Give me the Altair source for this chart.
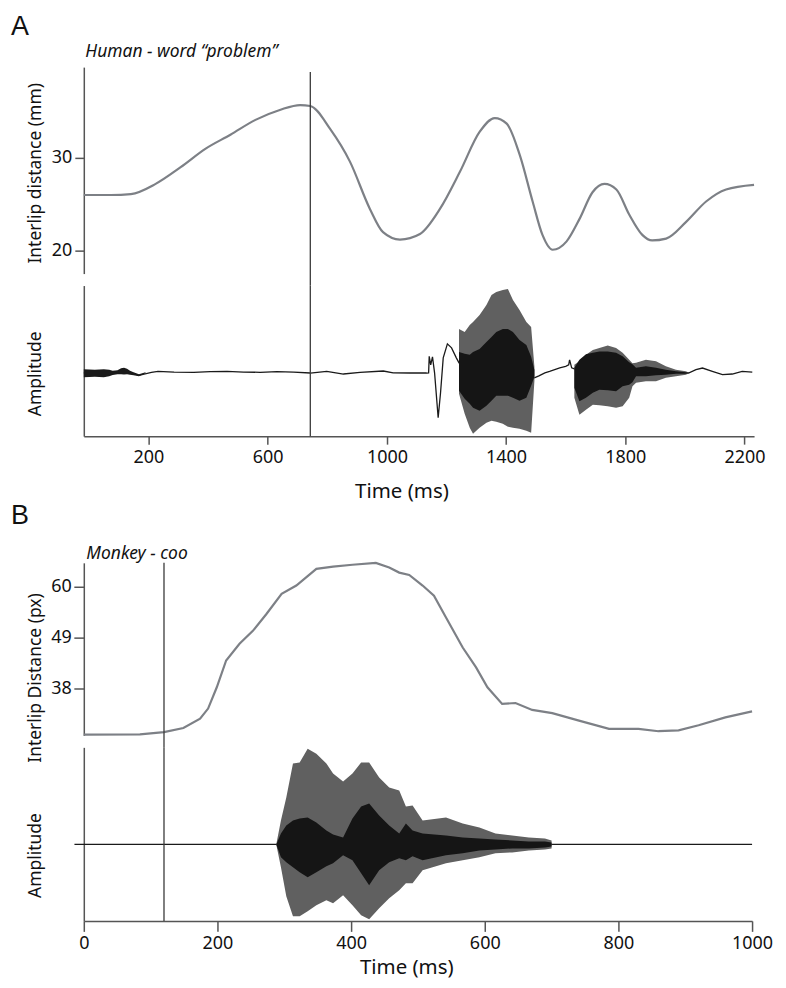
import altair as alt
import pandas as pd

# ---------------- text ----------------
panel_letters = ["A", "B"]
panel_subtitles = ["Human - word  \u201cproblem\u201d", "Monkey - coo"]
y_titles_top = ["Interlip distance (mm)", "Interlip Distance (px)"]
amp_title = "Amplitude"
x_title = "Time (ms)"

# ---------------- ticks ----------------
a_ticks_x = [200, 600, 1000, 1400, 1800, 2200]
a_ticks_y = [20, 30]
b_ticks_x = [0, 200, 400, 600, 800, 1000]
b_ticks_y = [38, 49, 60]

# time of the vertical marker (ms)
a_marker_t = [743]
b_marker_t = [120]

# ---------------- panel A: interlip distance (mm) ----------------
a_dist_t = [-17, 74, 141, 224, 308, 392, 475, 559, 643, 709, 743, 810, 876, 943, 987, 1044,
            1111, 1178, 1245, 1311, 1362, 1402, 1446, 1489, 1522, 1556, 1603, 1646, 1690,
            1730, 1770, 1813, 1857, 1890, 1937, 2004, 2071, 2138, 2232]
a_dist_v = [26.0, 26.0, 26.1, 27.2, 29.0, 31.0, 32.5, 34.1, 35.2, 35.7, 35.6, 33.1, 29.6, 24.5,
            22.0, 21.2, 21.8, 24.5, 28.5, 32.8, 34.3, 33.7, 30.3, 25.3, 21.7, 20.1, 21.0, 23.4,
            26.3, 27.2, 26.6, 23.9, 21.7, 21.1, 21.3, 23.1, 25.3, 26.6, 27.1]

# ---------------- panel A: audio waveform (amplitude, arbitrary units) ----------------
a_wave_t = [-17, 68, 96, 118, 135, 168, 210, 232, 286, 352, 407, 464, 519, 575, 631, 687, 743,
            798, 854, 910, 988, 1021, 1077, 1133, 1140, 1142, 1147, 1153, 1160, 1172, 1180,
            1189, 1203, 1217, 1233, 1242, 1495, 1510, 1530, 1546, 1580, 1600, 1610, 1613,
            1620, 1629, 2014, 2037, 2059, 2092, 2126, 2159, 2192, 2226]
a_wave_v = [0, -0.5, 0.3, 1.5, 0.5, -2.5, 0.5, 1.5, 0.8, 0.5, 1.2, 1.5, 0.8, 0.5, 1.2, 0.8, -0.2,
            1.5, -1.2, 0.5, 1.8, 0, -0.2, -0.2, 0, 16.5, 8, 16, 0, -45, -20,
            15, 29, 25, 15, 10, -5, -3, 0, 1.5, 5, 6.5, 8, 13,
            5, 4, 0, 3.2, 4.8, 1.5, -1.8, -1.2, 1.5, 0.8]

a_noise_t = [-17, 20, 50, 68, 80, 96, 108, 118, 128, 138, 150, 168, 190]
a_noise_hi = [3.5, 3.2, 3.5, 3.0, 2.0, 2.5, 4.5, 5.0, 4.0, 2.0, 0.5, -1.5, 0.5]
a_noise_lo = [-4.5, -4.0, -4.5, -3.5, -2.3, -1.5, -1.5, -1.8, -1.5, -2.0, -2.5, -3.5, -0.5]

a_v1_t = [1242, 1261, 1278, 1289, 1311, 1334, 1351, 1367, 1389, 1406, 1423, 1445, 1468, 1484, 1495]
a_v1_out_hi = [44, 41, 48, 51, 58, 68, 78, 81, 83, 84, 73, 63, 51, 46, 6]
a_v1_out_lo = [-21, -41, -55, -61, -55, -50, -48, -49, -51, -54, -55, -56, -58, -60, -8]
a_v1_in_hi = [21, 19, 18, 21, 24, 31, 36, 41, 44, 44, 41, 33, 28, 16, 3]
a_v1_in_lo = [-18, -26, -31, -35, -38, -33, -28, -23, -23, -23, -25, -28, -25, -13, -4]

a_v2_t = [1629, 1646, 1668, 1691, 1713, 1741, 1769, 1791, 1813, 1824, 1836, 1869, 1903, 1936, 1970, 2003, 2014]
a_v2_out_hi = [8, 11.5, 18, 23, 25, 27.5, 25, 20, 13, 9.5, 10, 13, 11.5, 6.5, 3, 1.5, 0]
a_v2_out_lo = [-25, -42, -37, -32, -32.5, -33.5, -35, -33.5, -25, -13.5, -10, -8.5, -8.5, -5, -3.5, -2, -0.5]
a_v2_in_hi = [5, 13, 18.5, 20, 21.5, 21.5, 20, 16.5, 10.5, 8.5, 5, 6.5, 5, 3, 1.5, 0.5, 0]
a_v2_in_lo = [-15, -28.5, -25, -20, -17, -17.5, -18.5, -13.5, -12, -9.5, -3.5, -3.5, -2.5, -2, -1, -1, -0.5]

# ---------------- panel B: interlip distance (px) ----------------
b_dist_t = [0, 84, 120, 149, 174, 186, 199, 213, 233, 253, 273, 296, 318, 348, 373, 402, 437,
            457, 472, 487, 507, 524, 542, 567, 587, 604, 626, 646, 671, 701, 741, 786, 830,
            860, 890, 920, 960, 1000]
b_dist_v = [27.95, 28.0, 28.5, 29.4, 31.4, 33.6, 38.2, 44.0, 47.6, 50.4, 54.0, 58.4, 60.2, 63.8,
            64.3, 64.7, 65.1, 64.1, 63.0, 62.5, 60.2, 58.0, 53.3, 46.8, 42.5, 38.2, 34.6, 34.8,
            33.3, 32.6, 31.0, 29.2, 29.2, 28.7, 28.9, 30.0, 31.7, 33.0]

# ---------------- panel B: audio waveform ----------------
b_base_t = [-14, 1000]
b_base_v = [0, 0]
b_v_t = [288, 295, 303, 313, 323, 335, 348, 363, 373, 388, 402, 415, 427, 442, 457, 472, 482,
         492, 507, 542, 567, 592, 616, 641, 666, 690, 700]
b_v_out_hi = [0, 24, 47, 81, 82, 96, 91, 81, 71, 63, 71, 82, 82, 67, 57, 54, 38, 39, 24, 27, 21,
              17, 11, 9, 7, 6, 4]
b_v_out_lo = [0, -23, -52, -72, -72, -67, -61, -56, -59, -51, -61, -71, -75, -64, -54, -46, -39,
              -39, -26, -19, -16, -13, -9, -8, -6, -5, -4]
b_v_in_hi = [0, 11, 19, 24, 26, 27, 22, 14, 10, 7, 26, 38, 41, 29, 19, 11, 21, 14, 11, 9, 7, 6,
             5, 4, 3, 3, 2]
b_v_in_lo = [0, -13, -18, -23, -28, -33, -28, -22, -19, -11, -16, -29, -41, -26, -18, -14, -16,
             -12, -16, -11, -9, -6, -5, -4, -4, -3, -2]

# ---------------- styling ----------------
FONT = "Noto Sans"
LETTER_FONT = "Liberation Sans"
AXC = "#555555"
DIST_COLOR = "#7d8086"
OUTER = "#606060"
INNER = "#151515"
MARK_COLOR = "#3a3a3a"

W_A, W_B = 672, 670
H1, H2, HS, H3, H4 = 207, 151, 103, 173, 174
GAP = 12

xa = alt.Scale(domain=[-17, 2232], nice=False, zero=False)
xb = alt.Scale(domain=[0, 1000], nice=False, zero=False)
y1 = alt.Scale(domain=[17.53, 39.79], nice=False, zero=False)
y2s = alt.Scale(domain=[-63.5, 87.5], nice=False, zero=False)
y3 = alt.Scale(domain=[27.8, 65.11], nice=False, zero=False)
y4 = alt.Scale(domain=[-76.7, 97.3], nice=False, zero=False)


def ax(**kw):
    base = dict(domainColor=AXC, domainWidth=1.5, tickColor=AXC, tickWidth=1.5, grid=False,
                labelFont=FONT, labelFontSize=18, labelColor="#111111", labelFlush=False,
                labelOverlap=False, titleFont=FONT, titleFontSize=17.5, titleFontWeight="normal",
                titleColor="#111111")
    base.update(kw)
    return alt.Axis(**base)


def ytitle_axis(title, ty, **kw):
    return ax(title=title, titleX=-48.5, titleY=ty, titleBaseline="middle", titleAlign="center",
              titleAngle=270, **kw)


ax_y1 = ytitle_axis(y_titles_top[0], 106, values=a_ticks_y, tickSize=9, labelPadding=3)
ax_y2 = ytitle_axis(amp_title, 88, ticks=False, labels=False)
ax_y3 = ytitle_axis(y_titles_top[1], 115, values=b_ticks_y, tickSize=10, labelPadding=2.5)
ax_y4 = ytitle_axis(amp_title, 108, ticks=False, labels=False)
ax_x2 = ax(values=a_ticks_x, format="d", tickSize=8, labelPadding=4, title=x_title,
           titleFontSize=20.5, titleX=318.5, titleY=46, titleBaseline="top", titleAlign="center")
ax_x4 = ax(values=b_ticks_x, format="d", tickSize=10.5, labelPadding=3.5, title=x_title,
           titleFontSize=20.5, titleX=323.3, titleY=37, titleBaseline="top", titleAlign="center")


def line_layer(ts, vs, xs, xaxis, ys, yaxis, color, width, interp="linear"):
    df = pd.DataFrame({"t": ts, "v": vs})
    return alt.Chart(df).mark_line(color=color, strokeWidth=width, interpolate=interp).encode(
        x=alt.X("t:Q", scale=xs, axis=xaxis),
        y=alt.Y("v:Q", scale=ys, axis=yaxis),
    )


def band_layer(ts, hi, lo, xs, xaxis, ys, yaxis, color):
    df = pd.DataFrame({"t": ts, "hi": hi, "lo": lo})
    return alt.Chart(df).mark_area(color=color, opacity=1, interpolate="linear").encode(
        x=alt.X("t:Q", scale=xs, axis=xaxis),
        y=alt.Y("hi:Q", scale=ys, axis=yaxis, stack=None),
        y2=alt.Y2("lo:Q"),
    )


def marker_layer(ts, xs, xaxis, top, bottom):
    df = pd.DataFrame({"t": ts})
    return alt.Chart(df).mark_rule(color=MARK_COLOR, strokeWidth=1.3).encode(
        x=alt.X("t:Q", scale=xs, axis=xaxis),
        y=alt.value(top),
        y2=alt.value(bottom),
    )


def text_layer(label, x, y, size, italic=False, font=FONT):
    df = pd.DataFrame({"s": [label]})
    return alt.Chart(df).mark_text(
        align="left", baseline="alphabetic", font=font, fontSize=size,
        fontStyle="italic" if italic else "normal", color="#111111",
    ).encode(text="s:N", x=alt.value(x), y=alt.value(y))


# ---- A top ----
c1 = alt.layer(
    line_layer(a_dist_t, a_dist_v, xa, None, y1, ax_y1, DIST_COLOR, 2.2, "monotone"),
    marker_layer(a_marker_t, xa, None, 5, H1 + GAP),
    text_layer(panel_letters[0], -73, -32, 27, font=LETTER_FONT),
    text_layer(panel_subtitles[0], 1.5, -10, 17.5, italic=True),
).properties(width=W_A, height=H1)

# ---- A bottom ----
c2 = alt.layer(
    line_layer(a_wave_t, a_wave_v, xa, ax_x2, y2s, ax_y2, "#1a1a1a", 1.3),
    band_layer(a_noise_t, a_noise_hi, a_noise_lo, xa, ax_x2, y2s, ax_y2, "#1a1a1a"),
    band_layer(a_v1_t, a_v1_out_hi, a_v1_out_lo, xa, ax_x2, y2s, ax_y2, OUTER),
    band_layer(a_v1_t, a_v1_in_hi, a_v1_in_lo, xa, ax_x2, y2s, ax_y2, INNER),
    band_layer(a_v2_t, a_v2_out_hi, a_v2_out_lo, xa, ax_x2, y2s, ax_y2, OUTER),
    band_layer(a_v2_t, a_v2_in_hi, a_v2_in_lo, xa, ax_x2, y2s, ax_y2, INNER),
    marker_layer(a_marker_t, xa, ax_x2, 0, H2),
).properties(width=W_A, height=H2)

# ---- spacer ----
spacer = alt.Chart(pd.DataFrame({"s": [""]})).mark_text(opacity=0).encode(
    text="s:N", x=alt.value(0), y=alt.value(0)
).properties(width=W_A, height=HS)

# ---- B top ----
c3 = alt.layer(
    line_layer(b_dist_t, b_dist_v, xb, None, y3, ax_y3, DIST_COLOR, 2.2),
    marker_layer(b_marker_t, xb, None, 0, H3 + GAP),
    text_layer(panel_letters[1], -73, -39, 27, font=LETTER_FONT),
    text_layer(panel_subtitles[1], 2.5, -4, 17.5, italic=True),
).properties(width=W_B, height=H3)

# ---- B bottom ----
c4 = alt.layer(
    line_layer(b_base_t, b_base_v, xb, ax_x4, y4, ax_y4, "#1a1a1a", 1.3),
    band_layer(b_v_t, b_v_out_hi, b_v_out_lo, xb, ax_x4, y4, ax_y4, OUTER),
    band_layer(b_v_t, b_v_in_hi, b_v_in_lo, xb, ax_x4, y4, ax_y4, INNER),
    marker_layer(b_marker_t, xb, ax_x4, 0, H4),
).properties(width=W_B, height=H4)

chart = alt.vconcat(c1, c2, spacer, c3, c4, spacing=GAP, bounds="flush").properties(
    padding={"left": 3, "top": 4, "right": 5, "bottom": 5}
).configure_view(stroke=None)

chart.save("out.html", embed_options={"renderer": "svg", "actions": False})
